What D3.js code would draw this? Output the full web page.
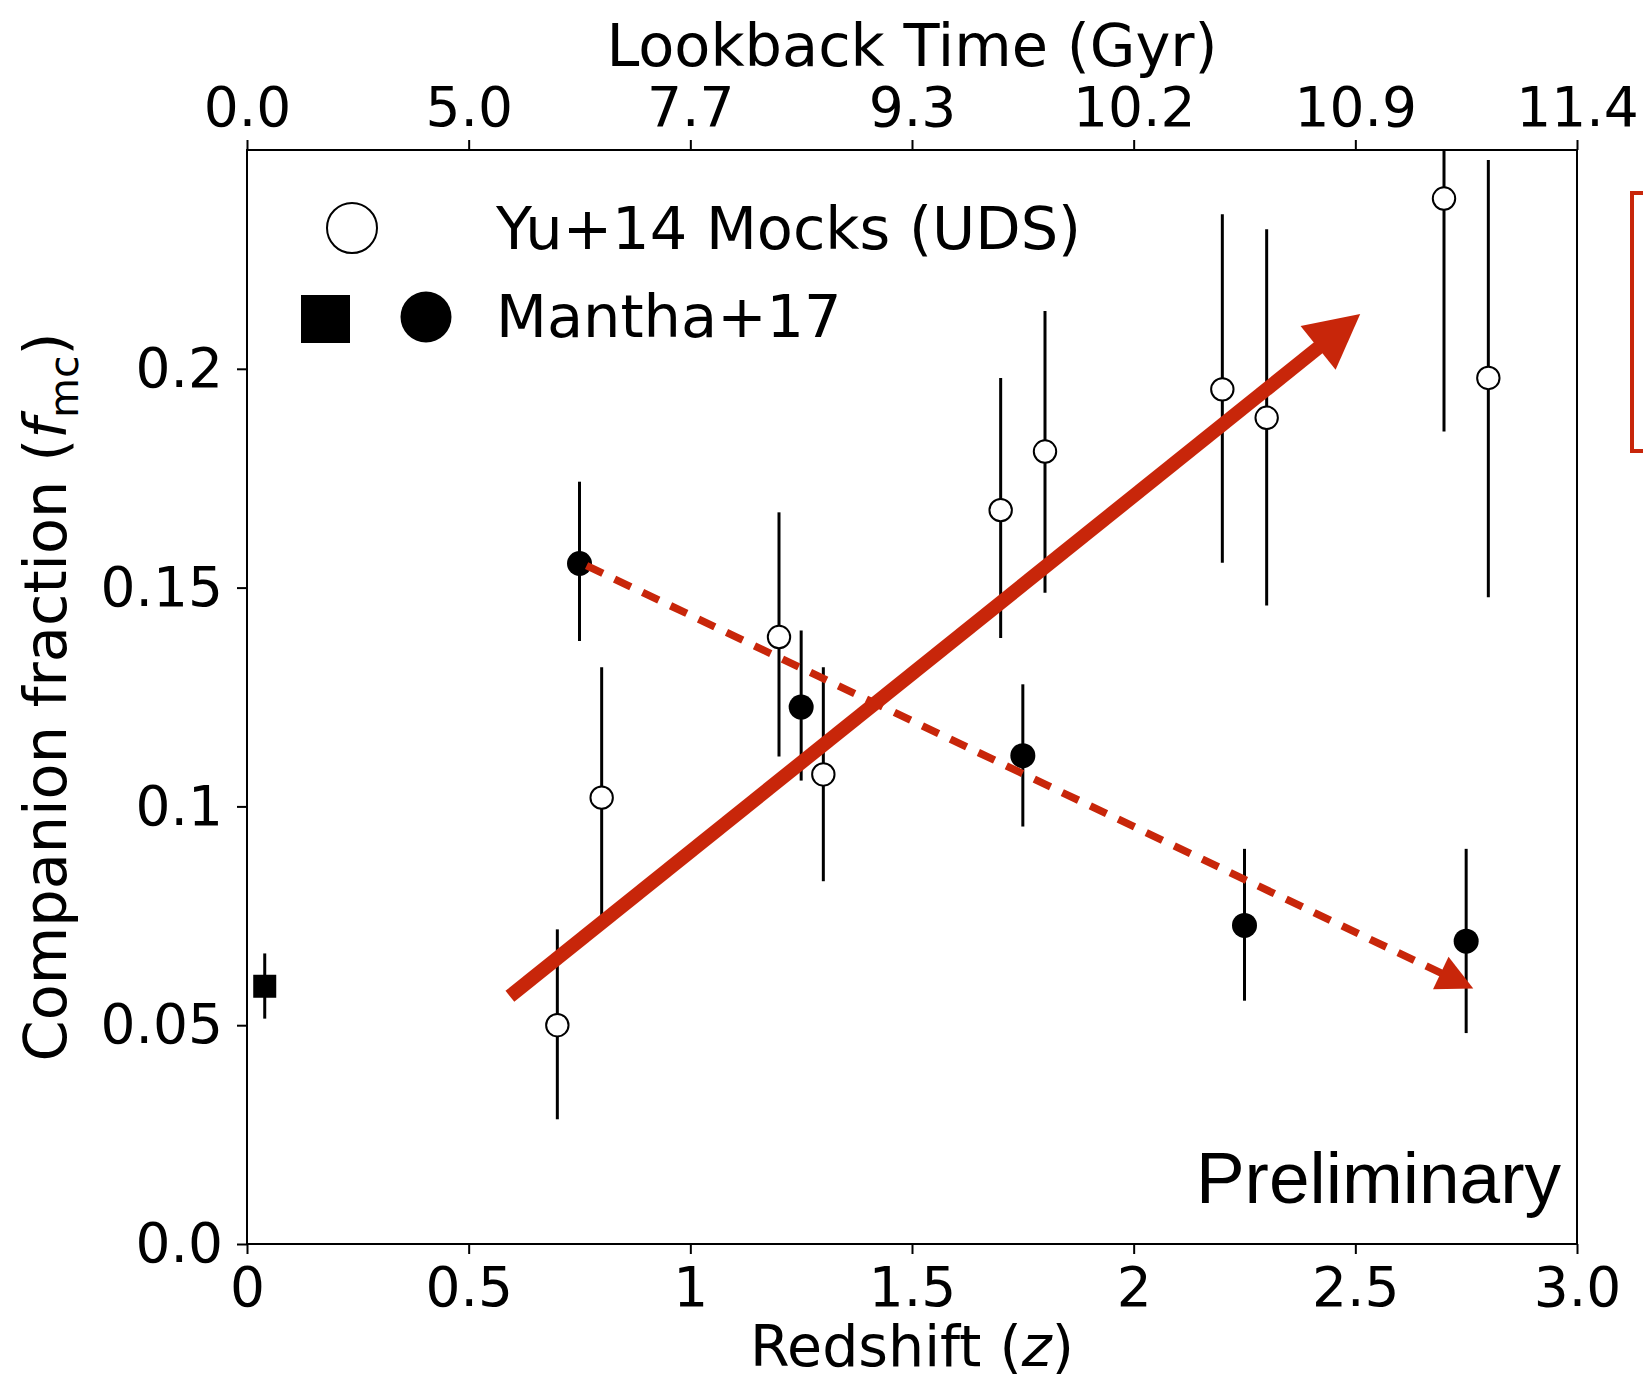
<!DOCTYPE html>
<html>
<head>
<meta charset="utf-8">
<script src="https://cdn.jsdelivr.net/npm/d3@7"></script>
<style>
  html, body { margin: 0; padding: 0; background: #fff; }
  svg text { font-family: "DejaVu Sans", sans-serif; fill: #000; }
</style>
</head>
<body>
<div id="wrapper"></div>
<script>
// ---- data ----
const mockZ  = [0.7, 0.8, 1.2, 1.3, 1.7, 1.8, 2.2, 2.3, 2.7, 2.8]
const mockF  = [0.050, 0.102, 0.1387, 0.1073, 0.1677, 0.1811, 0.1953, 0.1888, 0.2389, 0.1979]
const mockLo = [0.0285, 0.0752, 0.1114, 0.0829, 0.1385, 0.1488, 0.1557, 0.1459, 0.1857, 0.1478]
const mockHi = [0.0719, 0.1318, 0.1672, 0.1318, 0.1979, 0.2132, 0.2353, 0.2319, 0.2700, 0.2477]

const manthaZ  = [0.75, 1.25, 1.75, 2.25, 2.75]
const manthaF  = [0.1555, 0.1227, 0.1116, 0.0728, 0.0692]
const manthaLo = [0.1378, 0.1059, 0.0954, 0.0556, 0.0482]
const manthaHi = [0.1742, 0.1402, 0.1279, 0.0903, 0.0903]

const localZ  = [0.04]
const localF  = [0.0589]
const localLo = [0.0515]
const localHi = [0.0664]

const zTicks = [0, 0.5, 1, 1.5, 2, 2.5, 3]
const zTickLabels = ["0", "0.5", "1", "1.5", "2", "2.5", "3.0"]
const lookbackLabels = ["0.0", "5.0", "7.7", "9.3", "10.2", "10.9", "11.4"]
const fTicks = [0, 0.05, 0.1, 0.15, 0.2]
const fTickLabels = ["0.0", "0.05", "0.1", "0.15", "0.2"]

// overlay arrows, [z, f] of start and tip
const riseArrow = [[0.593, 0.0566], [2.511, 0.2125]]
const fallArrow = [[0.766, 0.1550], [2.766, 0.0584]]

function drawChart() {
  const red = "#c8260a"

  let dimensions = {
    width: 1643,
    height: 1382,
    margin: { top: 150, right: 66, bottom: 138, left: 247 },
  }
  dimensions.boundedWidth = dimensions.width - dimensions.margin.left - dimensions.margin.right
  dimensions.boundedHeight = dimensions.height - dimensions.margin.top - dimensions.margin.bottom

  const wrapper = d3.select("#wrapper")
    .append("svg")
      .attr("width", dimensions.width)
      .attr("height", dimensions.height)

  const bounds = wrapper.append("g")
    .attr("transform", `translate(${dimensions.margin.left},${dimensions.margin.top})`)

  // scales
  const xScale = d3.scaleLinear()
    .domain([0, 3])
    .range([0, dimensions.boundedWidth])

  const yScale = d3.scaleLinear()
    .domain([0, 0.25])
    .range([dimensions.boundedHeight, 0])

  bounds.append("clipPath").attr("id", "plot-clip")
    .append("rect")
      .attr("width", dimensions.boundedWidth)
      .attr("height", dimensions.boundedHeight)

  // axes
  const styleAxis = g => {
    g.select(".domain").remove()
    g.selectAll(".tick line").attr("stroke", "#000").attr("stroke-width", 2)
    g.selectAll(".tick text")
      .attr("font-family", "DejaVu Sans")
      .attr("font-size", 55)
      .attr("fill", "#000")
  }

  bounds.append("g")
    .attr("transform", `translate(0,${dimensions.boundedHeight})`)
    .call(d3.axisBottom(xScale).tickValues(zTicks)
      .tickFormat((d, i) => zTickLabels[i]).tickSizeOuter(0).tickSize(10).tickPadding(12))
    .call(styleAxis)
    .selectAll(".tick text").attr("dy", "0.73em")

  bounds.append("g")
    .call(d3.axisTop(xScale).tickValues(zTicks)
      .tickFormat((d, i) => lookbackLabels[i]).tickSizeOuter(0).tickSize(10).tickPadding(14))
    .call(styleAxis)

  bounds.append("g")
    .call(d3.axisLeft(yScale).tickValues(fTicks)
      .tickFormat((d, i) => fTickLabels[i]).tickSizeOuter(0).tickSize(10).tickPadding(14))
    .call(styleAxis)

  // frame
  bounds.append("rect")
    .attr("width", dimensions.boundedWidth)
    .attr("height", dimensions.boundedHeight)
    .attr("fill", "none")
    .attr("stroke", "#000")
    .attr("stroke-width", 2)

  // axis labels
  wrapper.append("text")
    .attr("x", dimensions.margin.left + dimensions.boundedWidth / 2)
    .attr("y", 66)
    .attr("text-anchor", "middle")
    .attr("font-size", 59)
    .text("Lookback Time (Gyr)")

  const xLabel = wrapper.append("text")
    .attr("x", dimensions.margin.left + dimensions.boundedWidth / 2)
    .attr("y", 1366)
    .attr("text-anchor", "middle")
    .attr("font-size", 57)
  xLabel.append("tspan").text("Redshift (")
  xLabel.append("tspan").attr("font-style", "italic").text("z")
  xLabel.append("tspan").text(")")

  const yLabel = wrapper.append("text")
    .attr("transform", `translate(66,${dimensions.margin.top + dimensions.boundedHeight / 2}) rotate(-90)`)
    .attr("text-anchor", "middle")
    .attr("font-size", 59)
  yLabel.append("tspan").text("Companion fraction (")
  yLabel.append("tspan").attr("font-style", "italic").text("f")
  yLabel.append("tspan").attr("font-size", 41).attr("dy", 12).text("mc")
  yLabel.append("tspan").attr("dy", -12).text(")")

  // data layer
  const plot = bounds.append("g").attr("clip-path", "url(#plot-clip)")

  const mocks = mockZ.map((z, i) => ({ z, f: mockF[i], lo: mockLo[i], hi: mockHi[i] }))
  const mantha = manthaZ.map((z, i) => ({ z, f: manthaF[i], lo: manthaLo[i], hi: manthaHi[i] }))
  const local = localZ.map((z, i) => ({ z, f: localF[i], lo: localLo[i], hi: localHi[i] }))

  const errorBars = (data, cls) => plot.selectAll(`.${cls}`)
    .data(data)
    .join("line")
      .attr("class", cls)
      .attr("x1", d => xScale(d.z))
      .attr("x2", d => xScale(d.z))
      .attr("y1", d => yScale(d.lo))
      .attr("y2", d => yScale(d.hi))
      .attr("stroke", "#000")
      .attr("stroke-width", 3)

  errorBars(local, "err-local")
  errorBars(mantha, "err-mantha")
  errorBars(mocks, "err-mock")

  // red overlay arrows (drawn over the points, as in the figure)
  const arrow = (pts, width, headLen, headWidth, dash) => {
    const [x0, y0] = [xScale(pts[0][0]), yScale(pts[0][1])]
    const [x1, y1] = [xScale(pts[1][0]), yScale(pts[1][1])]
    const len = Math.hypot(x1 - x0, y1 - y0)
    const ux = (x1 - x0) / len, uy = (y1 - y0) / len
    const bx = x1 - ux * headLen, by = y1 - uy * headLen
    const line = bounds.append("line")
      .attr("x1", x0).attr("y1", y0)
      .attr("x2", bx + ux * 2).attr("y2", by + uy * 2)
      .attr("stroke", red)
      .attr("stroke-width", width)
    if (dash) line.attr("stroke-dasharray", dash)
    bounds.append("path")
      .attr("d", d3.line()([
        [x1, y1],
        [bx - uy * headWidth / 2, by + ux * headWidth / 2],
        [bx + uy * headWidth / 2, by - ux * headWidth / 2],
      ]) + "Z")
      .attr("fill", red)
  }

  // markers
  plot.selectAll(".pt-local")
    .data(local)
    .join("rect")
      .attr("class", "pt-local")
      .attr("x", d => xScale(d.z) - 11.5)
      .attr("y", d => yScale(d.f) - 11.5)
      .attr("width", 23)
      .attr("height", 23)
      .attr("fill", "#000")

  arrow(fallArrow, 7.5, 36, 36, "18 13")

  plot.selectAll(".pt-mantha")
    .data(mantha)
    .join("circle")
      .attr("class", "pt-mantha")
      .attr("cx", d => xScale(d.z))
      .attr("cy", d => yScale(d.f))
      .attr("r", 12.5)
      .attr("fill", "#000")

  plot.selectAll(".pt-mock")
    .data(mocks)
    .join("circle")
      .attr("class", "pt-mock")
      .attr("cx", d => xScale(d.z))
      .attr("cy", d => yScale(d.f))
      .attr("r", 11.2)
      .attr("fill", "#fff")
      .attr("stroke", "#000")
      .attr("stroke-width", 2)

  arrow(riseArrow, 14, 54, 56)

  // legend
  const legend = wrapper.append("g")
  legend.append("circle")
    .attr("cx", 352).attr("cy", 228).attr("r", 25)
    .attr("fill", "#fff").attr("stroke", "#000").attr("stroke-width", 2)
  legend.append("rect")
    .attr("x", 301).attr("y", 295).attr("width", 49).attr("height", 48)
    .attr("fill", "#000")
  legend.append("circle")
    .attr("cx", 426).attr("cy", 317).attr("r", 25.5)
    .attr("fill", "#000")
  legend.append("text")
    .attr("x", 496).attr("y", 249).attr("font-size", 59)
    .text("Yu+14 Mocks (UDS)")
  legend.append("text")
    .attr("x", 496).attr("y", 337).attr("font-size", 59)
    .text("Mantha+17")

  // annotation text
  wrapper.append("text")
    .attr("x", 1561).attr("y", 1203)
    .attr("text-anchor", "end")
    .style("font-family", "'Liberation Sans', Arial, sans-serif")
    .attr("font-size", 73)
    .text("Preliminary")

  // red box at the right edge
  wrapper.append("rect")
    .attr("x", 1632).attr("y", 193)
    .attr("width", 40).attr("height", 258)
    .attr("fill", "none")
    .attr("stroke", red)
    .attr("stroke-width", 4)
}
drawChart()
</script>
</body>
</html>
